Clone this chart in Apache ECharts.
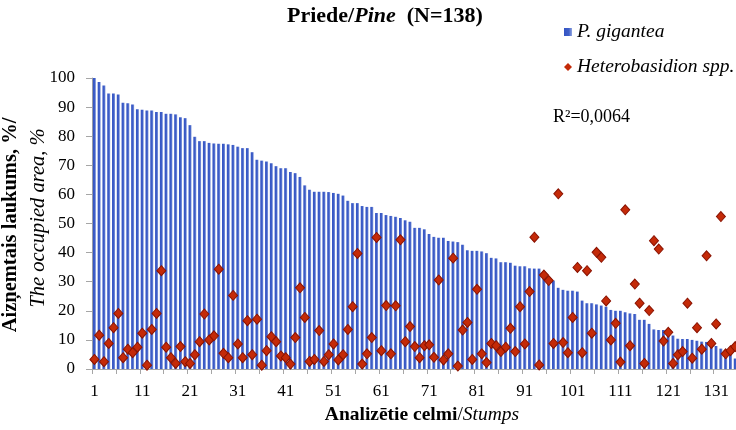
<!DOCTYPE html>
<html>
<head>
    <meta charset="utf-8">
    <title>Priede / Pine</title>
    <script src="https://cdn.jsdelivr.net/npm/echarts@6/dist/echarts.min.js"></script>
    <style type="text/css">
        html, body { margin: 0; padding: 0; background: #ffffff; }
        #chart { width: 736px; height: 430px; }
    </style>
</head>
<body>
<div id="chart"></div>
<script>
    // stump numbers 1..138
    var stumps = [];
    for (var n = 1; n <= 138; n++) {
        stumps.push(String(n));
    }

    // P. gigantea occupied area, % (sorted)
    var gigantea = [
        100.0, 98.6, 97.4, 94.7, 94.7, 94.3, 91.5, 91.3, 90.9, 89.3,
        89.1, 88.8, 88.8, 88.3, 88.3, 87.7, 87.7, 87.5, 86.5, 86.2,
        83.8, 79.8, 78.3, 78.3, 77.7, 77.5, 77.4, 77.4, 77.2, 77.0,
        76.4, 75.9, 75.9, 74.5, 71.9, 71.6, 71.3, 70.7, 69.7, 69.0,
        69.0, 67.7, 67.3, 66.0, 63.1, 61.6, 60.9, 60.9, 60.9, 60.8,
        60.5, 60.2, 59.6, 57.8, 57.0, 57.0, 56.0, 55.7, 55.7, 53.6,
        53.6, 52.9, 52.6, 52.3, 51.9, 51.1, 50.6, 48.5, 48.5, 48.0,
        46.4, 45.4, 45.1, 45.1, 44.0, 43.8, 43.6, 42.7, 40.8, 40.6,
        40.6, 40.4, 39.8, 38.2, 38.0, 36.7, 36.7, 36.5, 35.5, 35.3,
        35.3, 34.6, 34.5, 34.5, 32.9, 31.2, 30.4, 27.9, 27.2, 26.9,
        26.9, 26.6, 23.5, 22.6, 22.6, 22.2, 21.8, 21.4, 20.3, 20.0,
        20.0, 19.5, 19.1, 18.9, 16.9, 16.9, 15.5, 13.6, 13.4, 13.4,
        12.8, 11.5, 10.4, 10.3, 10.3, 10.0, 9.7, 9.4, 9.3, 9.2,
        7.9, 7.0, 6.3, 5.6, 3.6, 3.0, 2.0, 1.0
    ];

    // Heterobasidion spp. occupied area, %
    var heterobasidion = [
        3.3, 11.6, 2.5, 8.8, 14.2, 19.1, 3.9, 6.8, 5.6, 7.5,
        12.3, 1.3, 13.6, 19.1, 33.8, 7.5, 3.9, 1.9, 7.7, 2.5,
        1.9, 4.9, 9.4, 18.9, 10.0, 11.4, 34.3, 5.4, 3.9, 25.3,
        8.6, 3.9, 16.6, 4.9, 17.1, 1.3, 6.3, 11.1, 9.4, 4.5,
        3.9, 1.7, 10.8, 27.9, 17.7, 2.6, 3.3, 13.2, 2.6, 4.9,
        8.6, 3.1, 4.9, 13.6, 21.4, 39.7, 1.7, 5.2, 10.8, 45.2,
        6.3, 21.8, 5.2, 21.7, 44.4, 9.4, 14.6, 7.7, 3.9, 8.0,
        8.3, 4.0, 30.6, 3.1, 5.2, 38.1, 1.0, 13.4, 16.0, 3.3,
        27.4, 5.2, 2.2, 8.8, 8.0, 6.0, 7.5, 14.0, 6.0, 21.4,
        8.6, 26.6, 45.3, 1.4, 32.3, 30.4, 8.8, 60.2, 9.1, 5.6,
        17.7, 34.9, 5.6, 33.8, 12.3, 40.1, 38.4, 23.4, 10.0, 15.7,
        2.4, 54.7, 8.0, 29.2, 22.6, 1.9, 20.1, 44.1, 41.2, 9.6,
        12.6, 1.9, 4.9, 6.0, 22.6, 3.7, 14.2, 6.8, 38.9, 8.8,
        15.5, 52.4, 5.2, 6.3, 7.7, 9.0, 4.0, 12.0
    ];

    var yTicks = [0, 10, 20, 30, 40, 50, 60, 70, 80, 90, 100];

    var serif = '"Liberation Serif", "Times New Roman", serif';
    var chart = echarts.init(document.getElementById('chart'));

    var option = {
        animation: false,
        backgroundColor: '#ffffff',
        title: {
            left: 287,
            top: 5,
            padding: 0,
            text: '{b|Priede}{n|/}{i|Pine}{b|  (N=138)}',
            textStyle: {
                fontFamily: serif,
                fontSize: 22,
                color: '#000',
                rich: {
                    b: {fontFamily: serif, fontSize: 22, fontWeight: 'bold', color: '#000'},
                    n: {fontFamily: serif, fontSize: 22, color: '#000'},
                    i: {fontFamily: serif, fontSize: 22, fontStyle: 'italic', color: '#000'}
                }
            }
        },
        legend: {
            orient: 'vertical',
            left: 564,
            top: 22,
            padding: 0,
            itemGap: 15,
            itemWidth: 8,
            itemHeight: 8,
            textStyle: {
                fontFamily: serif,
                fontSize: 19.5,
                fontStyle: 'italic',
                color: '#000',
                lineHeight: 20
            },
            data: [
                {name: 'P. gigantea', icon: 'rect'},
                {name: 'Heterobasidion spp.', icon: 'diamond', itemStyle: {borderWidth: 0}}
            ]
        },
        grid: {
            left: 92,
            right: -16,
            top: 78,
            bottom: 61,
            containLabel: false,
            outerBoundsMode: 'none'
        },
        xAxis: {
            type: 'category',
            data: stumps,
            boundaryGap: true,
            name: '{b|Analizētie celmi}{n|/}{i|Stumps}',
            nameLocation: 'middle',
            nameGap: 33,
            nameTextStyle: {
                rich: {
                    b: {fontFamily: serif, fontSize: 19.5, fontWeight: 'bold', color: '#000'},
                    n: {fontFamily: serif, fontSize: 19.5, color: '#000'},
                    i: {fontFamily: serif, fontSize: 19.5, fontStyle: 'italic', color: '#000'}
                }
            },
            axisLine: {lineStyle: {color: '#a6a6a6', width: 1}},
            axisTick: {show: true, interval: 4, length: 5, lineStyle: {color: '#a6a6a6'}},
            axisLabel: {
                interval: 9,
                margin: 14,
                fontFamily: serif,
                fontSize: 17,
                color: '#000',
                hideOverlap: false
            },
            splitLine: {show: false}
        },
        yAxis: {
            type: 'value',
            min: yTicks[0],
            max: yTicks[yTicks.length - 1],
            interval: 10,
            axisLine: {show: true, lineStyle: {color: '#a6a6a6', width: 1}},
            axisTick: {show: true, length: 6, lineStyle: {color: '#a6a6a6'}},
            axisLabel: {
                margin: 17,
                fontFamily: serif,
                fontSize: 17,
                color: '#000'
            },
            splitLine: {show: false}
        },
        graphic: [
            {
                type: 'text',
                x: 11,
                y: 225,
                rotation: Math.PI / 2,
                style: {
                    text: 'Aizņemtais laukums, %/',
                    font: 'bold 20.5px ' + serif,
                    fill: '#000',
                    align: 'center',
                    verticalAlign: 'middle',
                    textAlign: 'center',
                    textVerticalAlign: 'middle'
                }
            },
            {
                type: 'text',
                x: 39,
                y: 218,
                rotation: Math.PI / 2,
                style: {
                    text: 'The occupied area, %',
                    font: 'italic 20.5px ' + serif,
                    fill: '#000',
                    align: 'center',
                    verticalAlign: 'middle',
                    textAlign: 'center',
                    textVerticalAlign: 'middle'
                }
            },
            {
                type: 'text',
                x: 553,
                y: 117,
                style: {
                    text: 'R²=0,0064',
                    font: '18px ' + serif,
                    fill: '#000',
                    align: 'left',
                    verticalAlign: 'middle',
                    textAlign: 'left',
                    textVerticalAlign: 'middle'
                }
            }
        ],
        series: [
            {
                name: 'P. gigantea',
                type: 'bar',
                data: gigantea,
                barWidth: 3,
                itemStyle: {
                    color: {
                        type: 'linear', x: 0, y: 0, x2: 1, y2: 0,
                        colorStops: [
                            {offset: 0, color: '#3454c4'},
                            {offset: 0.6, color: '#3f5fc8'},
                            {offset: 1, color: '#92a6e0'}
                        ]
                    }
                }
            },
            {
                name: 'Heterobasidion spp.',
                type: 'scatter',
                data: heterobasidion,
                symbol: 'diamond',
                symbolSize: [9, 10],
                itemStyle: {
                    color: '#c42a08',
                    borderColor: '#8a1200',
                    borderWidth: 1,
                    opacity: 1
                },
                z: 3
            }
        ]
    };

    chart.setOption(option);
</script>
</body>
</html>
